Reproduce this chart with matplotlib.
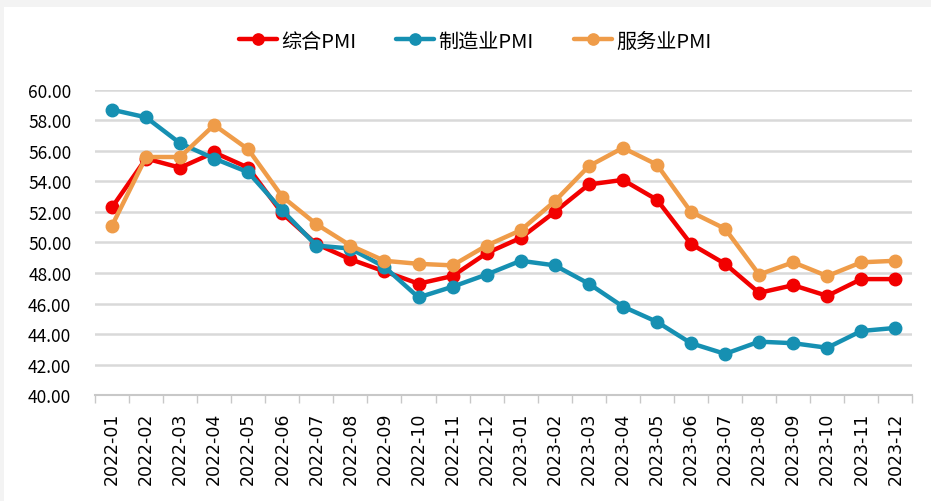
import numpy as np
import matplotlib.pyplot as plt
from matplotlib.patches import Rectangle

plt.rcParams['font.family'] = ['Noto Sans CJK SC', 'DejaVu Sans']

months = ['2022-01', '2022-02', '2022-03', '2022-04', '2022-05', '2022-06',
          '2022-07', '2022-08', '2022-09', '2022-10', '2022-11', '2022-12',
          '2023-01', '2023-02', '2023-03', '2023-04', '2023-05', '2023-06',
          '2023-07', '2023-08', '2023-09', '2023-10', '2023-11', '2023-12']

composite_pmi = [52.3, 55.5, 54.9, 55.9, 54.9, 51.9, 49.9, 48.9, 48.1, 47.3, 47.8, 49.3,
                 50.3, 52.0, 53.8, 54.1, 52.8, 49.9, 48.6, 46.7, 47.2, 46.5, 47.6, 47.6]
manufacturing_pmi = [58.7, 58.2, 56.5, 55.5, 54.6, 52.1, 49.8, 49.6, 48.4, 46.4, 47.1, 47.9,
                     48.8, 48.5, 47.3, 45.8, 44.8, 43.4, 42.7, 43.5, 43.4, 43.1, 44.2, 44.4]
services_pmi = [51.1, 55.6, 55.6, 57.7, 56.1, 53.0, 51.2, 49.8, 48.8, 48.6, 48.5, 49.8,
                50.8, 52.7, 55.0, 56.2, 55.1, 52.0, 50.9, 47.9, 48.7, 47.8, 48.7, 48.8]

series = [
    ('综合PMI', composite_pmi, '#f20000'),
    ('制造业PMI', manufacturing_pmi, '#1690b2'),
    ('服务业PMI', services_pmi, '#ef9c49'),
]

fig = plt.figure(figsize=(9.31, 5.02), dpi=100)
fig.patch.set_facecolor('#f3f3f3')
fig.patches.append(Rectangle((0.004, 0), 0.996, 0.984, transform=fig.transFigure,
                             facecolor='white', edgecolor='none', zorder=-10))

ax = fig.add_axes([0.102, 0.211, 0.878, 0.608])
ax.set_facecolor('none')

x = np.arange(len(months))
for name, vals, color in series:
    ax.plot(x, vals, color=color, lw=3.2, marker='o', markersize=9,
            label=name, solid_capstyle='round', zorder=3)

ax.set_ylim(40, 60)
ax.set_yticks(np.arange(40, 61, 2))
ax.set_yticklabels([f'{v:.2f}' for v in np.arange(40, 61, 2)], fontsize=12.5)
ax.set_xlim(-0.5, len(months) - 0.5)
ax.set_xticks(x)
ax.set_xticklabels(months, rotation=90, fontsize=12.5, family='DejaVu Sans')
ax.set_xticks(np.arange(-0.5, len(months), 1), minor=True)
ax.tick_params(axis='x', which='major', length=0, pad=12)
ax.tick_params(axis='x', which='minor', length=6, color='#c8c8c8', width=1)
ax.tick_params(axis='y', length=0, pad=17)

ax.grid(axis='y', color='#d9d9d9', lw=1.8, zorder=0)
ax.set_axisbelow(True)
for side in ['top', 'right', 'left']:
    ax.spines[side].set_visible(False)
ax.spines['bottom'].set_color('#c8c8c8')
ax.spines['bottom'].set_linewidth(1.5)

ax.legend(loc='center', bbox_to_anchor=(0.465, 1.16), ncol=3, frameon=False,
          fontsize=14.5, handlelength=1.9, handletextpad=0.2, columnspacing=2.0,
          markerscale=0.9)

plt.savefig('out.png', dpi=100)
